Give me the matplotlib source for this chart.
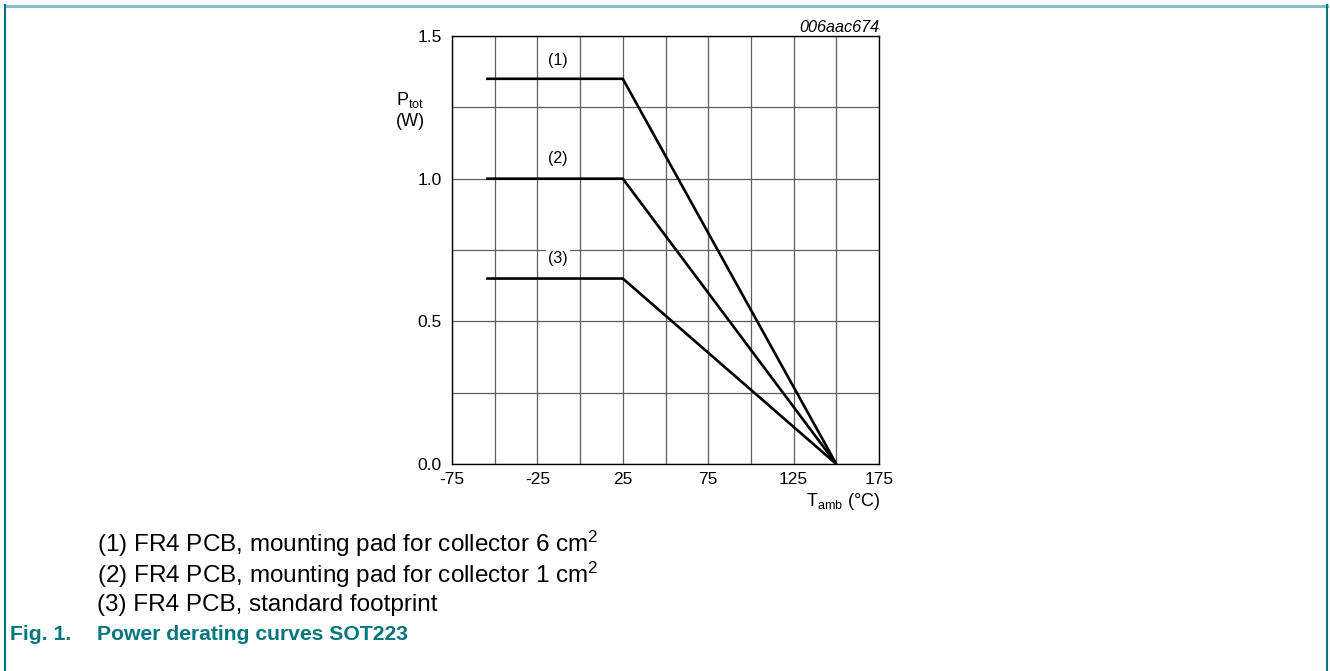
import matplotlib
matplotlib.use("Agg")
import matplotlib.pyplot as plt
from matplotlib.lines import Line2D

plt.rcParams["font.family"] = ["Liberation Sans", "DejaVu Sans"]
plt.rcParams["mathtext.fontset"] = "custom"
plt.rcParams["mathtext.rm"] = "Liberation Sans"
plt.rcParams["mathtext.it"] = "Liberation Sans:italic"
plt.rcParams["mathtext.bf"] = "Liberation Sans:bold"

# derating curves: flat up to 25 degC, then linear to zero at 150 degC
temp_pts = [-55, 25, 150]
p_tot_1 = [1.35, 1.35, 0.0]
p_tot_2 = [1.0, 1.0, 0.0]
p_tot_3 = [0.65, 0.65, 0.0]
curve_labels = ["(1)", "(2)", "(3)"]
label_pos = [(-13, 1.415), (-13, 1.07), (-13, 0.72)]

x_ticks = [-75, -25, 25, 75, 125, 175]
y_ticks = [0.0, 0.5, 1.0, 1.5]
notes = [
    "(1) FR4 PCB, mounting pad for collector 6 cm$^\\mathrm{2}$",
    "(2) FR4 PCB, mounting pad for collector 1 cm$^\\mathrm{2}$",
    "(3) FR4 PCB, standard footprint",
]
teal = "#00767c"

fig = plt.figure(figsize=(13.3, 6.71), dpi=100)
ax = fig.add_axes([452 / 1330, 1 - 464 / 671, 427 / 1330, 428 / 671])

x_grid = list(range(-75, 176, 25))
y_grid = [i * 0.25 for i in range(7)]
ax.set_xlim(-75, 175)
ax.set_ylim(0, 1.5)
ax.set_xticks(x_grid)
ax.set_xticklabels([str(t) if t in x_ticks else "" for t in x_grid])
ax.set_yticks(y_grid)
ax.set_yticklabels([f"{v:.1f}" if v in y_ticks else "" for v in y_grid])
ax.tick_params(length=0, labelsize=12.5)
ax.tick_params(axis="x", pad=5.5)
ax.tick_params(axis="y", pad=7.5)
ax.grid(True, color="#5e5e5e", linewidth=0.9)
ax.set_axisbelow(True)
for s in ax.spines.values():
    s.set_linewidth(1.0)

for ys in (p_tot_1, p_tot_2, p_tot_3):
    ax.plot(temp_pts, ys, color="black", linewidth=1.9, solid_capstyle="butt")

for lab, (x, y) in zip(curve_labels, label_pos):
    ax.text(x, y, lab, ha="center", va="center", fontsize=11.5,
            bbox=dict(facecolor="white", edgecolor="none", pad=1.5))

ax.text(1.0, 1.003, "006aac674", transform=ax.transAxes, ha="right", va="bottom",
        fontsize=11.7, style="italic")
fig.text(410 / 1330, 1 - 100 / 671, "P$_{\\mathrm{tot}}$", ha="center", va="center", fontsize=13)
fig.text(410 / 1330, 1 - 121 / 671, "(W)", ha="center", va="center", fontsize=13)
fig.text(880 / 1330, 1 - 501 / 671, "T$_{\\mathrm{amb}}$ (°C)", ha="right", va="center", fontsize=13)

for i, note in enumerate(notes):
    fig.text(97 / 1330, 1 - (544 + 30.5 * i) / 671, note, ha="left", va="center", fontsize=17.5)

fig.text(10 / 1330, 1 - 635 / 671, "Fig. 1.", ha="left", va="center", fontsize=15.2,
         fontweight="bold", color=teal)
fig.text(97 / 1330, 1 - 635 / 671, "Power derating curves SOT223", ha="left", va="center",
         fontsize=15.2, fontweight="bold", color=teal)

# page frame
fig.add_artist(Line2D([5 / 1330, 1327 / 1330], [1 - 6 / 671, 1 - 6 / 671], color="#86bec3",
                      linewidth=2.2, transform=fig.transFigure))
fig.add_artist(Line2D([5.5 / 1330, 5.5 / 1330], [0, 1 - 5 / 671], color=teal, linewidth=1.5,
                      transform=fig.transFigure))
fig.add_artist(Line2D([1327 / 1330, 1327 / 1330], [0, 1 - 5 / 671], color=teal, linewidth=1.5,
                      transform=fig.transFigure))

fig.savefig("out.png", dpi=100)
